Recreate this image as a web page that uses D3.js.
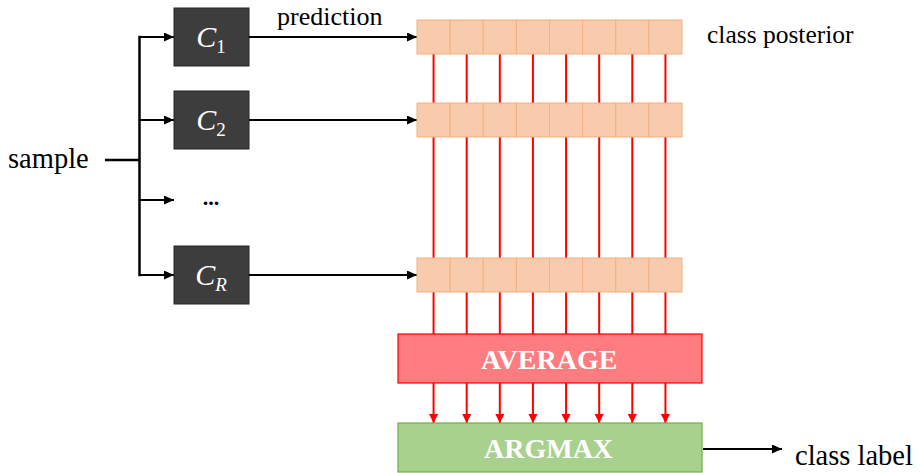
<!DOCTYPE html>
<html>
<head>
<meta charset="utf-8">
<script src="https://cdn.jsdelivr.net/npm/d3@7"></script>
<style>
  html, body { margin: 0; padding: 0; background: #fff; }
  svg { display: block; }
</style>
</head>
<body>
<svg id="chart" width="921" height="473"></svg>
<script>
// ---- data ----
const classifiers = ["C1", "C2", "...", "CR"];
const classifierBase = ["C", "C", "...", "C"];
const classifierSub = ["1", "2", "", "R"];
const posteriorRows = ["C1", "C2", "CR"];
const classes = ["k1", "k2", "k3", "k4", "k5", "k6", "k7", "k8"];
const labels = ["sample", "prediction", "class posterior", "AVERAGE", "ARGMAX", "class label"];

// ---- layout ----
const FONT = "'Liberation Serif', Tinos, 'Times New Roman', Times, serif";
const svg = d3.select("#chart").attr("font-family", FONT);

const branchPos = { "C1": 37, "C2": 120, "...": 200, "CR": 275 };
const yOf = d => branchPos[d];

const cellX = d3.scaleBand().domain(classes).range([417, 682]).padding(0);
const rowH = 34;

const defs = svg.append("defs");
function marker(id, color, len, wid) {
  defs.append("marker")
    .attr("id", id)
    .attr("viewBox", `0 0 ${len} ${wid}`)
    .attr("refX", len).attr("refY", wid / 2)
    .attr("markerWidth", len).attr("markerHeight", wid)
    .attr("markerUnits", "userSpaceOnUse")
    .attr("orient", "auto")
    .append("path")
    .attr("d", `M0,0 L${len},${wid / 2} L0,${wid} Z`)
    .attr("fill", color);
}
marker("ab", "#000", 10, 9);
marker("ar", "#ff0000", 9, 9);

function fitText(sel, w) {
  sel.each(function () {
    const len = this.getComputedTextLength();
    if (Math.abs(len - w) > 3) {
      d3.select(this).attr("textLength", w).attr("lengthAdjust", "spacingAndGlyphs");
    }
  });
  return sel;
}

// sample label and line
fitText(svg.append("text").attr("x", 8).attr("y", 168)
  .attr("font-size", 28.5).attr("fill", "#000").text(labels[0]), 81);
svg.append("line").attr("x1", 105).attr("x2", 140).attr("y1", 160).attr("y2", 160)
  .attr("stroke", "#000").attr("stroke-width", 2.5);

// trunk
svg.append("line").attr("x1", 139.5).attr("x2", 139.5)
  .attr("y1", yOf("C1") - 1.2).attr("y2", yOf("CR") + 1.2)
  .attr("stroke", "#000").attr("stroke-width", 2.5);

// branches
svg.selectAll(".branch").data(classifiers).enter().append("line")
  .attr("x1", 139.5).attr("x2", 174)
  .attr("y1", yOf).attr("y2", yOf)
  .attr("stroke", "#000").attr("stroke-width", 2.2)
  .attr("marker-end", "url(#ab)");

// classifier boxes
const boxes = classifiers.filter(d => d !== "...");
svg.selectAll(".cbox").data(boxes).enter().append("rect")
  .attr("x", 174).attr("y", d => yOf(d) - 29)
  .attr("width", 75).attr("height", 58)
  .attr("fill", "#3d3d3d").attr("stroke", "#262626").attr("stroke-width", 1);

const lab = svg.selectAll(".clab").data(classifiers).enter().append("text")
  .attr("x", 211).attr("y", d => d === "..." ? 205 : yOf(d) + 10)
  .attr("text-anchor", "middle")
  .attr("fill", d => d === "..." ? "#000" : "#fff")
  .attr("font-size", 30);
lab.append("tspan").attr("font-style", d => d === "..." ? "normal" : "italic")
  .attr("font-size", d => d === "..." ? 22 : 30)
  .attr("font-weight", d => d === "..." ? "bold" : "normal")
  .text((d, i) => classifierBase[i]);
lab.append("tspan").attr("font-size", 19).attr("dy", 6)
  .attr("font-style", (d, i) => classifierSub[i] === "R" ? "italic" : "normal")
  .text((d, i) => classifierSub[i]);

// prediction arrows
svg.selectAll(".pred").data(posteriorRows).enter().append("line")
  .attr("x1", 249).attr("x2", 417)
  .attr("y1", yOf).attr("y2", yOf)
  .attr("stroke", "#000").attr("stroke-width", 2.2)
  .attr("marker-end", "url(#ab)");
fitText(svg.append("text").attr("x", 277).attr("y", 25)
  .attr("font-size", 26).attr("fill", "#000").text(labels[1]), 106);

// red connector lines (behind cells)
const rowTop = d => yOf(d) - rowH / 2;
const rowBot = d => yOf(d) + rowH / 2;
const avgTop = 334, avgBot = 383, argTop = 423, argBot = 472;
const segs = [
  [rowBot("C1"), rowTop("C2"), false],
  [rowBot("C2"), rowTop("CR"), false],
  [rowBot("CR"), avgTop, false],
  [avgBot, argTop, true]
];
segs.forEach(([y1, y2, arrow]) => {
  svg.selectAll(null).data(classes).enter().append("line")
    .attr("x1", d => cellX(d) + cellX.bandwidth() / 2)
    .attr("x2", d => cellX(d) + cellX.bandwidth() / 2)
    .attr("y1", y1).attr("y2", y2)
    .attr("stroke", "#ff0000").attr("stroke-width", 2)
    .attr("marker-end", arrow ? "url(#ar)" : null);
});

// posterior cells
posteriorRows.forEach(r => {
  svg.selectAll(null).data(classes).enter().append("rect")
    .attr("x", d => cellX(d)).attr("y", rowTop(r))
    .attr("width", cellX.bandwidth()).attr("height", rowH)
    .attr("fill", "#f8cbad").attr("stroke", "#f4b183").attr("stroke-width", 1);
});
fitText(svg.append("text").attr("x", 707).attr("y", 43)
  .attr("font-size", 25.5).attr("fill", "#000").text(labels[2]), 148);

// AVERAGE box
svg.append("rect").attr("x", 398).attr("y", avgTop).attr("width", 304).attr("height", avgBot - avgTop)
  .attr("fill", "#ff7c80").attr("stroke", "#ff0000").attr("stroke-width", 1.2);
fitText(svg.append("text").attr("x", 481).attr("y", 369)
  .attr("font-size", 28).attr("font-weight", "bold").attr("fill", "#fff").text(labels[3]), 138);

// ARGMAX box
svg.append("rect").attr("x", 398).attr("y", argTop).attr("width", 304).attr("height", argBot - argTop)
  .attr("fill", "#a9d18e").attr("stroke", "#70ad47").attr("stroke-width", 1.2);
fitText(svg.append("text").attr("x", 484).attr("y", 458)
  .attr("font-size", 28).attr("font-weight", "bold").attr("fill", "#fff").text(labels[4]), 132);

// class label arrow
svg.append("line").attr("x1", 703).attr("x2", 782).attr("y1", 449).attr("y2", 449)
  .attr("stroke", "#000").attr("stroke-width", 2.2).attr("marker-end", "url(#ab)");
fitText(svg.append("text").attr("x", 795).attr("y", 465)
  .attr("font-size", 28.5).attr("fill", "#000").text(labels[5]), 118);
</script>
</body>
</html>
